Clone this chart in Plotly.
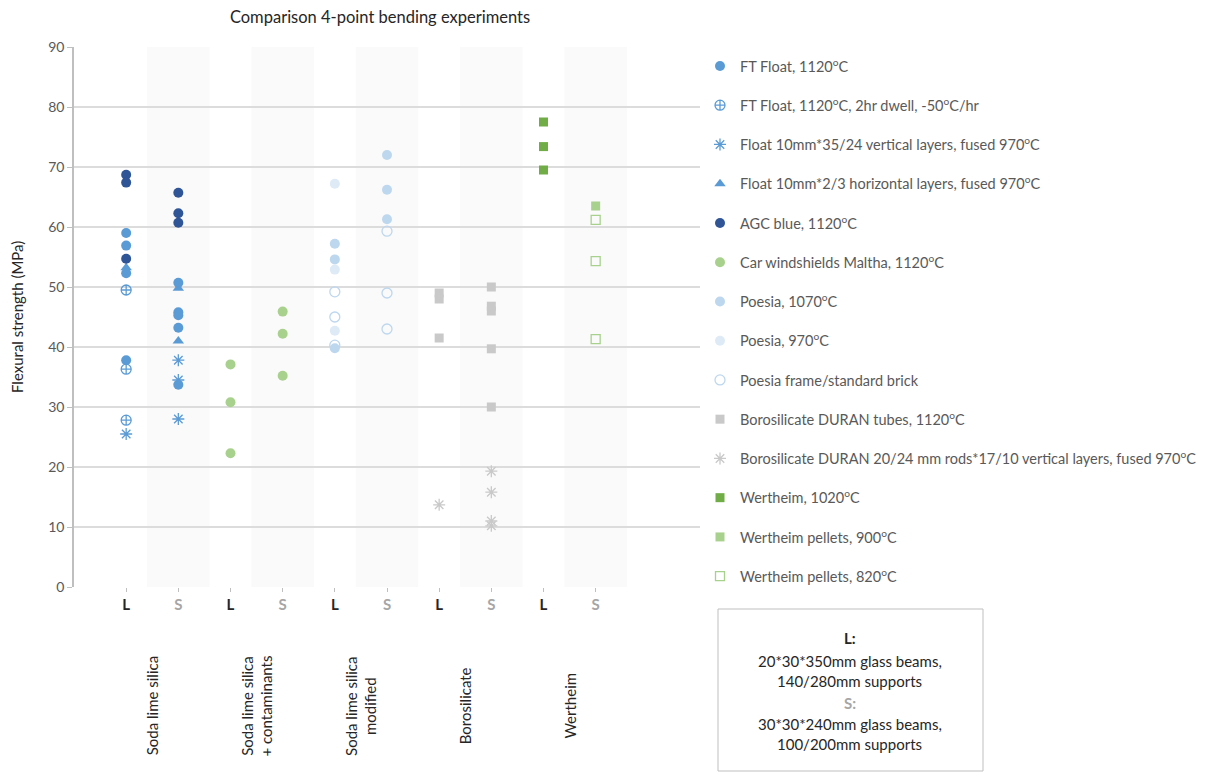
import plotly.graph_objects as go

# column order on the x axis: five glass groups, each tested with L and S beams
columns = ["SLS-L", "SLS-S", "SLSC-L", "SLSC-S", "SLSM-L", "SLSM-S",
           "BORO-L", "BORO-S", "WERT-L", "WERT-S"]
tick_text = ["L", "S"] * 5
groups = ["Soda lime silica", "Soda lime silica<br>+ contaminants",
          "Soda lime silica<br>modified", "Borosilicate", "Wertheim"]

# flexural strength (MPa) per series, as (column, value) pairs
ft_float = [("SLS-L", 59.0), ("SLS-L", 56.9), ("SLS-L", 52.3), ("SLS-L", 37.8),
            ("SLS-S", 50.7), ("SLS-S", 45.8), ("SLS-S", 45.3), ("SLS-S", 43.2), ("SLS-S", 33.7)]
ft_float_dwell = [("SLS-L", 49.5), ("SLS-L", 36.3), ("SLS-L", 27.8)]
float_vertical = [("SLS-L", 25.5), ("SLS-S", 37.8), ("SLS-S", 34.5), ("SLS-S", 28.0)]
float_horizontal = [("SLS-L", 53.2), ("SLS-S", 49.8), ("SLS-S", 41.0)]
agc_blue = [("SLS-L", 68.7), ("SLS-L", 67.4), ("SLS-L", 54.7),
            ("SLS-S", 65.7), ("SLS-S", 62.3), ("SLS-S", 60.7)]
windshields = [("SLSC-L", 37.1), ("SLSC-L", 30.8), ("SLSC-L", 22.3),
               ("SLSC-S", 45.9), ("SLSC-S", 42.2), ("SLSC-S", 35.2)]
poesia_1070 = [("SLSM-L", 57.2), ("SLSM-L", 54.6), ("SLSM-L", 39.8),
               ("SLSM-S", 72.0), ("SLSM-S", 66.2), ("SLSM-S", 61.3)]
poesia_970 = [("SLSM-L", 67.2), ("SLSM-L", 52.9), ("SLSM-L", 42.7)]
poesia_frame = [("SLSM-L", 49.2), ("SLSM-L", 45.0), ("SLSM-L", 40.3),
                ("SLSM-S", 59.3), ("SLSM-S", 49.0), ("SLSM-S", 43.0)]
boro_tubes = [("BORO-L", 49.0), ("BORO-L", 48.0), ("BORO-L", 41.5),
              ("BORO-S", 50.0), ("BORO-S", 46.8), ("BORO-S", 46.0), ("BORO-S", 39.7), ("BORO-S", 30.0)]
boro_rods = [("BORO-L", 13.7), ("BORO-S", 19.3), ("BORO-S", 15.8), ("BORO-S", 11.0), ("BORO-S", 10.2)]
wertheim_1020 = [("WERT-L", 77.5), ("WERT-L", 73.4), ("WERT-L", 69.5)]
wertheim_900 = [("WERT-S", 63.5)]
wertheim_820 = [("WERT-S", 61.2), ("WERT-S", 54.3), ("WERT-S", 41.3)]

SUP = "<sup>o</sup>"
series = [
    ("FT Float, 1120" + SUP + "C", ft_float, "circle", "#5B9BD5"),
    ("FT Float, 1120" + SUP + "C, 2hr dwell, -50" + SUP + "C/hr", ft_float_dwell, "circle-cross-open", "#5B9BD5"),
    ("Float 10mm*35/24 vertical layers, fused 970" + SUP + "C", float_vertical, "asterisk-open", "#5B9BD5"),
    ("Float 10mm*2/3 horizontal layers, fused 970" + SUP + "C", float_horizontal, "triangle-up", "#5B9BD5"),
    ("AGC blue, 1120" + SUP + "C", agc_blue, "circle", "#2F5597"),
    ("Car windshields Maltha, 1120" + SUP + "C", windshields, "circle", "#A9D18E"),
    ("Poesia, 1070" + SUP + "C", poesia_1070, "circle", "#BDD7EE"),
    ("Poesia, 970" + SUP + "C", poesia_970, "circle", "#DEEBF7"),
    ("Poesia frame/standard brick", poesia_frame, "circle-open", "#BDD7EE"),
    ("Borosilicate DURAN tubes, 1120" + SUP + "C", boro_tubes, "square", "#C9C9C9"),
    ("Borosilicate DURAN 20/24 mm rods*17/10 vertical layers, fused 970" + SUP + "C", boro_rods, "asterisk-open", "#C9C9C9"),
    ("Wertheim, 1020" + SUP + "C", wertheim_1020, "square", "#70AD47"),
    ("Wertheim pellets, 900" + SUP + "C", wertheim_900, "square", "#A9D18E"),
    ("Wertheim pellets, 820" + SUP + "C", wertheim_820, "square-open", "#A9D18E"),
]

FONT = "Lato, 'Open Sans', sans-serif"
# the page body adds an 8px margin, so the figure is drawn 8px smaller
W, H, PAD = 1205, 764, 8
xpos = {c: i + 1 for i, c in enumerate(columns)}


def px(x):  # screen x -> paper x
    return (x - 74) / 626


def py(y):  # screen y -> paper y
    return (587 - y) / 540


fig = go.Figure()

# faint bands behind every S column
for c in columns:
    if c.endswith("-S"):
        fig.add_vrect(x0=xpos[c] - 0.6, x1=xpos[c] + 0.6, fillcolor="#FAFAFA",
                      line_width=0, layer="below")

for i, (name, pts, symbol, color) in enumerate(series):
    open_marker = symbol.endswith("-open")
    size = 9 if symbol.startswith("square") else 10
    fig.add_trace(go.Scatter(
        x=[xpos[c] for c, _ in pts], y=[v for _, v in pts], mode="markers", name=name,
        legendgroup=f"g{i}",
        marker=dict(symbol=symbol, size=size, color=color,
                    line=dict(color=color, width=1.3 if open_marker else 0)),
    ))

ticks = []
for t in tick_text:
    col = "#262626" if t == "L" else "#A6A6A6"
    ticks.append(f"<span style='color:{col}'><b>{t}</b></span>")

fig.update_layout(
    width=W, height=H, plot_bgcolor="white", paper_bgcolor="white",
    margin=dict(l=74 - PAD, r=W - (700 - PAD), t=47 - PAD, b=H - (587 - PAD), autoexpand=False),
    font=dict(family=FONT, size=14, color="#595959"),
    showlegend=True,
    legend=dict(xref="container", yref="container", x=(700 - PAD) / W, y=1 - (50 - PAD) / H,
                xanchor="left", yanchor="top", tracegroupgap=17.4, maxheight=H,
                bgcolor="rgba(0,0,0,0)",
                font=dict(size=14.5, color="#595959"), itemwidth=30),
    xaxis=dict(range=[0, 12], tickvals=list(range(1, 11)), ticktext=ticks,
               showgrid=False, zeroline=False, showline=False,
               ticks="outside", ticklen=4, tickcolor="#BFBFBF",
               tickfont=dict(size=15), fixedrange=True),
    yaxis=dict(range=[0, 90], dtick=10, showgrid=True, gridcolor="#DCDCDC", gridwidth=1.5,
               zeroline=False, showline=True, linecolor="#BFBFBF", linewidth=1.5,
               ticks="outside", ticklen=5, tickcolor="#BFBFBF",
               tickfont=dict(size=14, color="#595959")),
    title=dict(text="Comparison 4-point bending experiments", x=(380 - PAD) / W, xanchor="center",
               y=1 - (17 - PAD) / H, yanchor="middle", font=dict(size=16.5, color="#262626")),
)

fig.add_annotation(x=px(17), xref="paper", y=0.5, yref="paper",
                   text="Flexural strength (MPa)", textangle=-90, showarrow=False,
                   xanchor="center", yanchor="middle",
                   font=dict(size=15, color="#262626"))

# group labels under each L/S pair
for k, g in enumerate(groups):
    fig.add_annotation(x=2 * k + 1.5, xref="x", y=py(706), yref="paper",
                       text=g, textangle=-90, showarrow=False,
                       xanchor="center", yanchor="middle",
                       font=dict(size=15, color="#262626"), align="center")

# explanatory box
fig.add_shape(type="rect", xref="paper", yref="paper",
              x0=px(718), x1=px(983), y0=py(609), y1=py(771),
              line=dict(color="#BFBFBF", width=1), fillcolor="white")
box_lines = [("<b>L:</b>", 638, "#262626"),
             ("20*30*350mm glass beams,", 661, "#262626"),
             ("140/280mm supports", 681, "#262626"),
             ("<b>S:</b>", 703, "#A6A6A6"),
             ("30*30*240mm glass beams,", 724, "#262626"),
             ("100/200mm supports", 744, "#262626")]
for text, ypx, col in box_lines:
    fig.add_annotation(x=px(850), xref="paper", y=py(ypx), yref="paper",
                       text=text, showarrow=False, xanchor="center", yanchor="middle",
                       font=dict(size=15, color=col))

fig.write_html("out.html")
